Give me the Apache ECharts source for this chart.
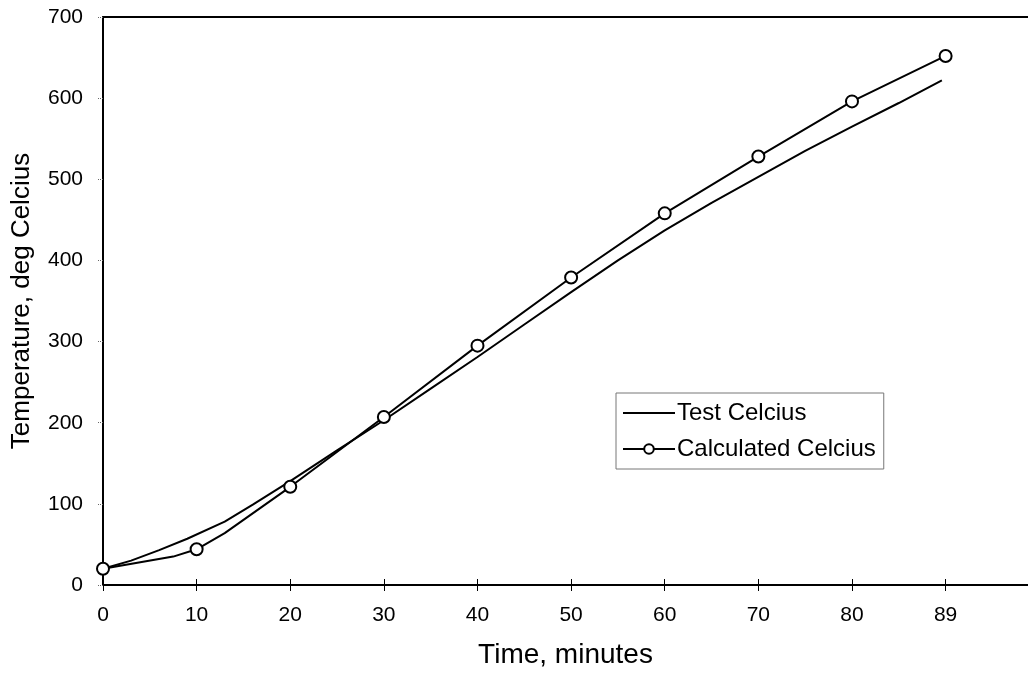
<!DOCTYPE html>
<html>
<head>
<meta charset="utf-8">
<script src="https://cdn.jsdelivr.net/npm/echarts@6/dist/echarts.min.js"></script>
<style>
html,body{margin:0;padding:0;background:#fff;}
#chart{width:1028px;height:677px;}
</style>
</head>
<body>
<div id="chart"></div>
<script>
// Tick labels on the time axis (last tick is labelled 89)
var xTickLabels = ['0','10','20','30','40','50','60','70','80','89'];
var yTickLabels = ['0','100','200','300','400','500','600','700'];

// Test Celcius (continuous curve, no markers)
var testTimes  = [0, 3, 6, 9, 13, 16, 20, 25, 30, 35, 40, 45, 50, 55, 60, 65, 70, 75, 80, 85, 89.6];
var testValues = [20, 30, 43, 57, 78, 99, 128, 166, 203, 242, 281, 321, 361, 400, 437, 471, 503, 535, 565, 594, 622];

// Calculated Celcius (markers every 10 min, with two bend points)
var calcTimes   = [0, 7.5, 10, 13, 20, 30, 40, 50, 60, 70, 80, 90];
var calcValues  = [20, 35, 44, 64, 121, 207, 295, 379, 458, 528, 596, 652];
var calcMarked  = [true, false, true, false, true, true, true, true, true, true, true, true];

var FONT = '"Liberation Sans", Arial, Helvetica, sans-serif';

var testData = testTimes.map(function (t, i) { return [t, testValues[i]]; });
var calcData = calcTimes.map(function (t, i) {
  var item = { value: [t, calcValues[i]] };
  if (!calcMarked[i]) item.symbol = 'none';
  return item;
});

var chart = echarts.init(document.getElementById('chart'));
chart.setOption({
  backgroundColor: '#fff',
  animation: false,
  grid: { left: 103, right: 0, top: 17, bottom: 92, containLabel: false },
  legend: {
    orient: 'vertical',
    left: 616,
    top: 393,
    padding: [8, 8, 8, 6],
    itemGap: 12,
    itemWidth: 52,
    itemHeight: 12,
    borderColor: '#777',
    borderWidth: 1,
    backgroundColor: '#fff',
    textStyle: { fontFamily: FONT, fontSize: 24, color: '#000', padding: [0, 0, 0, -3] },
    data: [
      { name: 'Test Celcius', itemStyle: { color: 'rgba(0,0,0,0)', borderWidth: 0, opacity: 0 } },
      { name: 'Calculated Celcius' }
    ]
  },
  xAxis: [
    {
      type: 'value', min: 0, max: 98.8, interval: 10,
      position: 'bottom',
      axisLine: { lineStyle: { color: '#000', width: 2 } },
      axisTick: { show: true, length: 6, lineStyle: { color: '#000', width: 1 } },
      splitLine: { show: false },
      axisLabel: {
        color: '#000', fontFamily: FONT, fontSize: 21, margin: 20,
        showMaxLabel: false,
        formatter: function (v) {
          var idx = Math.round(v / 10);
          return xTickLabels[idx] !== undefined ? xTickLabels[idx] : '';
        }
      },
      name: 'Time, minutes',
      nameLocation: 'middle',
      nameGap: 56,
      nameTextStyle: { color: '#000', fontFamily: FONT, fontSize: 28 }
    },
    {
      type: 'value', min: 0, max: 98.8, interval: 10,
      position: 'bottom',
      axisLine: { show: false },
      axisTick: { show: true, inside: true, length: 6, lineStyle: { color: '#000', width: 1 } },
      axisLabel: { show: false },
      splitLine: { show: false }
    },
    {
      type: 'value', min: 0, max: 98.8, interval: 10,
      position: 'top',
      axisLine: { show: true, lineStyle: { color: '#000', width: 2 } },
      axisTick: { show: false },
      axisLabel: { show: false },
      splitLine: { show: false }
    }
  ],
  yAxis: {
    type: 'value', min: 0, max: 700, interval: 100,
    axisLine: { show: true, lineStyle: { color: '#000', width: 2 } },
    axisTick: { show: true, length: 6, lineStyle: { color: '#666', width: 1, type: 'dotted' } },
    splitLine: { show: false },
    axisLabel: {
      color: '#000', fontFamily: FONT, fontSize: 21, margin: 20,
      formatter: function (v) {
        var idx = Math.round(v / 100);
        return yTickLabels[idx] !== undefined ? yTickLabels[idx] : '';
      }
    },
    name: 'Temperature, deg Celcius',
    nameLocation: 'middle',
    nameGap: 68,
    nameTextStyle: { color: '#000', fontFamily: FONT, fontSize: 26 }
  },
  series: [
    {
      name: 'Test Celcius',
      type: 'line',
      xAxisIndex: 0,
      data: testData,
      showSymbol: false,
      symbol: 'none',
      lineStyle: { color: '#000', width: 2 },
      itemStyle: { color: '#000' },
      z: 2
    },
    {
      name: 'Calculated Celcius',
      type: 'line',
      xAxisIndex: 0,
      data: calcData,
      symbol: 'circle',
      symbolSize: 12,
      showAllSymbol: true,
      lineStyle: { color: '#000', width: 2 },
      itemStyle: { color: '#fff', borderColor: '#000', borderWidth: 2 },
      z: 3
    }
  ]
});
</script>
</body>
</html>
